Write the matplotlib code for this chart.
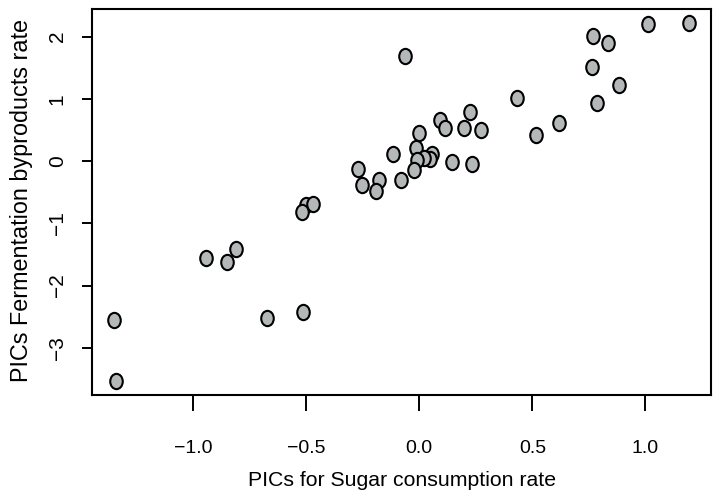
import matplotlib
matplotlib.use("Agg")
import matplotlib.pyplot as plt
from matplotlib.markers import MarkerStyle
from matplotlib.transforms import Affine2D

sugar_pic = [-0.065, -0.118, -0.27, -0.254, -0.176, -0.19, -0.08, -0.50, -0.468, -0.518,
             1.013, 1.193, 0.768, 0.833, 0.765, 0.885, 0.788, 0.432, 0.616, 0.518,
             0.223, 0.093, 0.114, 0.20, 0.271, -0.003, -0.015, 0.056, 0.046, 0.023,
             -0.008, 0.147, 0.235, -0.022, -1.35, -1.341, -0.942, -0.848, -0.811, -0.673,
             -0.515]
ferm_pic = [1.69, 0.107, -0.12, -0.386, -0.305, -0.482, -0.305, -0.707, -0.696, -0.815,
            2.197, 2.224, 2.01, 1.892, 1.516, 1.217, 0.932, 1.013, 0.616, 0.423,
            0.793, 0.659, 0.53, 0.53, 0.503, 0.445, 0.214, 0.12, 0.027, 0.043,
            0.02, -0.021, -0.043, -0.145, -2.556, -3.53, -1.554, -1.618, -1.42, -2.53,
            -2.43]

xticks = [-1.0, -0.5, 0.0, 0.5, 1.0]
xticklabels = ["\u22121.0", "\u22120.5", "0.0", "0.5", "1.0"]
yticks = [-3, -2, -1, 0, 1, 2]
yticklabels = ["\u22123", "\u22122", "\u22121", "0", "1", "2"]

plt.rcParams['font.family'] = ['Liberation Sans', 'DejaVu Sans']

W, H = 723, 498
fig = plt.figure(figsize=(W / 100, H / 100), dpi=100)
ax = fig.add_axes([92 / W, 1 - 395 / H, (711 - 92) / W, (395 - 9) / H])

mk = MarkerStyle('o', transform=Affine2D().scale(0.82, 1.0))
ax.plot(sugar_pic, ferm_pic, linestyle='none', marker=mk, markersize=11,
        markerfacecolor='#b4b8b8', markeredgecolor='black', markeredgewidth=1.5)

ax.set_xlim(-1.447, 1.29)
ax.set_ylim(-3.76, 2.445)

ax.set_xticks(xticks)
ax.set_xticklabels(xticklabels, fontsize=14)
ax.set_yticks(yticks)
ax.set_yticklabels(yticklabels, fontsize=15, rotation=90, va='center')

ax.tick_params(axis='x', length=11.5, width=1.4, pad=21, direction='out')
ax.tick_params(axis='y', length=7.2, width=1.4, pad=11, direction='out')
for s in ax.spines.values():
    s.set_linewidth(1.5)

ax.set_xlabel("PICs for Sugar consumption rate", fontsize=15.3, va='center')
ax.xaxis.set_label_coords(401.7 / W, 1 - 480 / H, transform=fig.transFigure)
ax.set_ylabel("PICs Fermentation byproducts rate", fontsize=16.8, va='center')
ax.yaxis.set_label_coords(21.7 / W, 1 - 200.8 / H, transform=fig.transFigure)

fig.savefig("out.png", dpi=100)
